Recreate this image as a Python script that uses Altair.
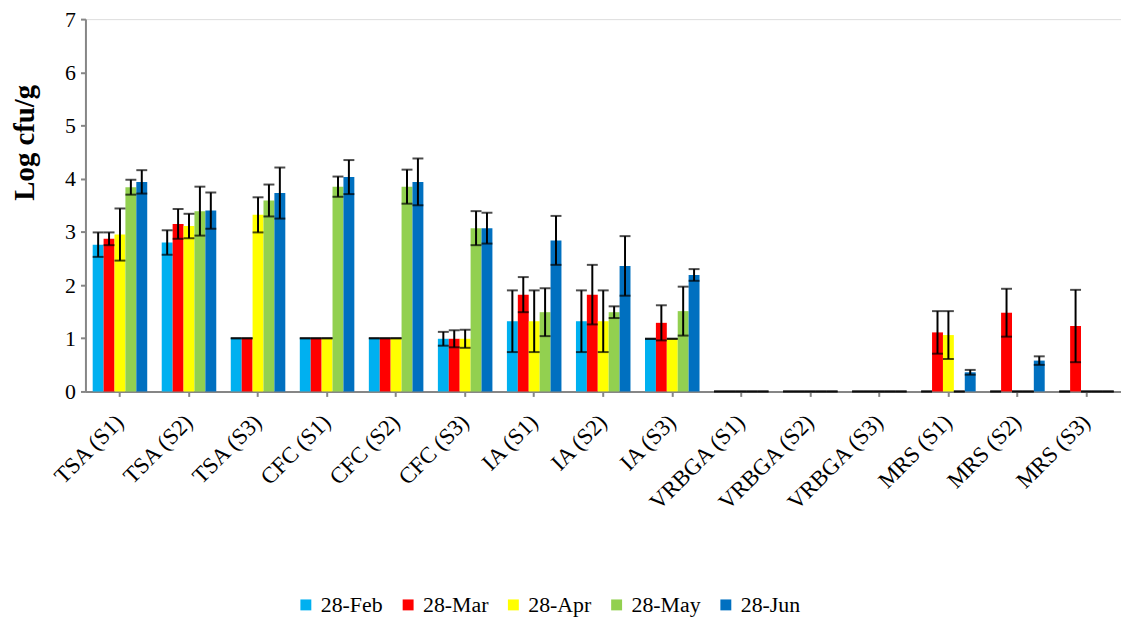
import altair as alt
import pandas as pd

categories = ["TSA (S1)", "TSA (S2)", "TSA (S3)", "CFC (S1)", "CFC (S2)", "CFC (S3)",
              "IA (S1)", "IA (S2)", "IA (S3)", "VRBGA (S1)", "VRBGA (S2)", "VRBGA (S3)",
              "MRS (S1)", "MRS (S2)", "MRS (S3)"]
series = ["28-Feb", "28-Mar", "28-Apr", "28-May", "28-Jun"]
colors = ["#00B0F0", "#FF0000", "#FFFF00", "#92D050", "#0070C0"]

feb = [2.76, 2.80, 1.00, 1.00, 1.00, 0.99, 1.32, 1.32, 0.99, 0, 0, 0, 0, 0, 0]
feb_err = [0.23, 0.23, 0, 0, 0, 0.13, 0.58, 0.58, 0, 0, 0, 0, 0, 0, 0]
mar = [2.87, 3.15, 1.00, 1.00, 1.00, 0.99, 1.82, 1.82, 1.29, 0, 0, 0, 1.11, 1.48, 1.23]
mar_err = [0.12, 0.28, 0, 0, 0, 0.16, 0.33, 0.56, 0.33, 0, 0, 0, 0.40, 0.45, 0.68]
apr = [2.95, 3.11, 3.32, 1.00, 1.00, 0.99, 1.32, 1.32, 0.99, 0, 0, 0, 1.06, 0, 0]
apr_err = [0.49, 0.23, 0.33, 0, 0, 0.17, 0.58, 0.58, 0, 0, 0, 0, 0.45, 0, 0]
may = [3.84, 3.39, 3.59, 3.85, 3.85, 3.07, 1.49, 1.49, 1.51, 0, 0, 0, 0, 0, 0]
may_err = [0.14, 0.46, 0.30, 0.19, 0.32, 0.32, 0.45, 0.11, 0.46, 0, 0, 0, 0, 0, 0]
jun = [3.94, 3.40, 3.73, 4.03, 3.94, 3.07, 2.84, 2.36, 2.19, 0, 0, 0, 0.36, 0.58, 0]
jun_err = [0.22, 0.34, 0.48, 0.32, 0.44, 0.29, 0.46, 0.56, 0.11, 0, 0, 0, 0.045, 0.08, 0]

vals = [feb, mar, apr, may, jun]
errs = [feb_err, mar_err, apr_err, may_err, jun_err]

rows = []
for s, v, e in zip(series, vals, errs):
    for c, vv, ee in zip(categories, v, e):
        rows.append({"cat": c, "series": s, "value": vv, "lo": vv - ee, "hi": vv + ee})
df = pd.DataFrame(rows)

FONT = "Liberation Serif"

x = alt.X("cat:N", sort=categories, title=None,
          scale=alt.Scale(paddingInner=0.21, paddingOuter=0.105),
          axis=alt.Axis(labelAngle=-45, labelAlign="right", labelBaseline="middle",
                        labelFont=FONT, labelFontSize=23, labelColor="black",
                        labelPadding=22, tickSize=5, tickColor="#868686",
                        domainColor="#868686", domainWidth=2, tickWidth=2, grid=False))
xo = alt.XOffset("series:N", sort=series, scale=alt.Scale(paddingInner=0, paddingOuter=0))

base = alt.Chart(df)

bars = base.mark_bar().encode(
    x=x, xOffset=xo,
    y=alt.Y("value:Q", title="Log cfu/g",
            scale=alt.Scale(domain=[0, 7], nice=False),
            axis=alt.Axis(values=[0, 1, 2, 3, 4, 5, 6, 7], format="d", grid=False,
                          labelFont=FONT, labelFontSize=22, labelColor="black",
                          labelPadding=5, tickSize=5, tickColor="#868686", tickWidth=2,
                          domainColor="#868686", domainWidth=2,
                          titleFont=FONT, titleFontSize=29, titleFontWeight="bold",
                          titleColor="black", titlePadding=25, titleY=124)),
    color=alt.Color("series:N", sort=series,
                    scale=alt.Scale(domain=series, range=colors),
                    legend=alt.Legend(title=None, orient="none", direction="horizontal",
                                      legendX=211, legendY=579,
                                      symbolType="square", symbolSize=121,
                                      symbolStrokeWidth=0, labelFont=FONT,
                                      labelFontSize=22, labelColor="black",
                                      labelOffset=4, columnPadding=14)),
)

xr = alt.X("cat:N", sort=categories)
xor = alt.XOffset("series:N", sort=series)

rule = base.mark_rule(color="black", strokeWidth=2).encode(
    x=xr, xOffset=xor, y="lo:Q", y2="hi:Q")

cap_lo = base.mark_tick(color="black", thickness=2, size=11, orient="horizontal").encode(
    x=xr, xOffset=xor, y="lo:Q")
cap_hi = base.mark_tick(color="black", thickness=2, size=11, orient="horizontal").encode(
    x=xr, xOffset=xor, y="hi:Q")

chart = alt.layer(bars, rule, cap_lo, cap_hi).properties(
    width=1043, height=375,
    autosize=alt.AutoSizeParams(type="none"),
    padding={"left": 78, "top": 9, "right": 0, "bottom": 228},
).configure_view(stroke=None).configure_axis(grid=False).configure_legend(
    labelFont=FONT, labelFontSize=22, labelColor="black", labelLimit=0
).configure(background="white", font=FONT)

chart.save("out.html", embed_options={"renderer": "svg", "actions": False})
